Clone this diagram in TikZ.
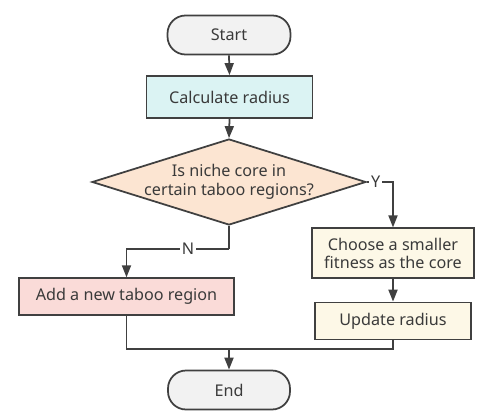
\documentclass[tikz,border=0pt]{standalone}
\usepackage{fontspec}
\setmainfont{Noto Sans}
\definecolor{termgray}{HTML}{F2F2F2}
\definecolor{calccyan}{HTML}{DBF3F3}
\definecolor{decpeach}{HTML}{FCE5D2}
\definecolor{addpink}{HTML}{FADBD8}
\definecolor{updcream}{HTML}{FDF8E7}
\definecolor{edgegray}{HTML}{404040}
\definecolor{textgray}{HTML}{3A3A3A}
\usetikzlibrary{
  positioning, shapes.geometric, arrows.meta
}
\tikzset{
	basenode/.style={
			shape=rectangle,
			draw=edgegray,
			line width=1pt,
			text=textgray,
			inner sep=0pt,
			align=center,
			font=\fontsize{9.2}{10.5}\selectfont
		}
}
\tikzset{
	termnode/.style={
			basenode,
			fill=termgray,
			rounded corners=0.36cm,
			minimum width=2.46cm,
			minimum height=0.78cm
		},
	calcnode/.style={
			basenode,
			fill=calccyan,
			minimum width=3.32cm,
			minimum height=0.84cm
		},
	decnode/.style={
			basenode,
			shape=diamond,
			fill=decpeach,
			minimum width=5.48cm,
			minimum height=1.72cm
		},
	addnode/.style={
			basenode,
			fill=addpink,
			minimum width=4.3cm,
			minimum height=0.74cm
		},
	updnode/.style={
			basenode,
			fill=updcream,
			minimum height=0.74cm
		}
}
\tikzset{
	flowline/.style={draw=edgegray, line width=1pt},
	flowarrow/.style={flowline, -{Triangle[length=0.24cm, width=0.18cm]}},
	branchtext/.style={fill=white, text=textgray, inner sep=1pt, font=\fontsize{9.2}{10.5}\selectfont}
}

\begin{document}
\begin{tikzpicture}[x=0.02cm, y=-0.02cm]

  \useasboundingbox (0,0) rectangle (504,419);

  \node[termnode] (start) at (229,35) {Start};
  \node[calcnode] (calc) at (229.5,97) {Calculate radius};
  \node[decnode] (dec) at (229,182) {};
  \node[text=textgray, align=center, font=\fontsize{9.2}{10.5}\selectfont] at (dec) {Is niche core in\\certain taboo regions?};

  \node[updnode, minimum width=3.24cm, minimum height=1.0cm] (choose) at (393,253.3) {Choose a smaller\\fitness as the core};
  \node[updnode, minimum width=3.12cm] (update) at (393,321) {Update radius};
  \node[addnode] (add) at (126.5,296.7) {Add a new taboo region};
  \node[termnode, minimum width=2.44cm] (end) at (229,390) {End};

  \coordinate (nturn) at (229,249);
  \coordinate (join) at (229,349);

  \draw[flowarrow] (start.south) -- (calc.north);
  \draw[flowarrow] (calc.south) -- (dec.north);
  \draw[flowarrow] (dec.east) -| node[branchtext, pos=0.17] {Y} (choose.north);
  \draw[flowarrow] (choose.south) -- (update.north);
  \draw[flowline] (dec.south) -- (nturn);
  \draw[flowarrow] (nturn) -| node[branchtext, pos=0.2] {N} (add.north);
  \draw[flowline] (add.south) |- (join) -| (update.south);
  \draw[flowarrow] (join) -- (end.north);

\end{tikzpicture}
\end{document}
